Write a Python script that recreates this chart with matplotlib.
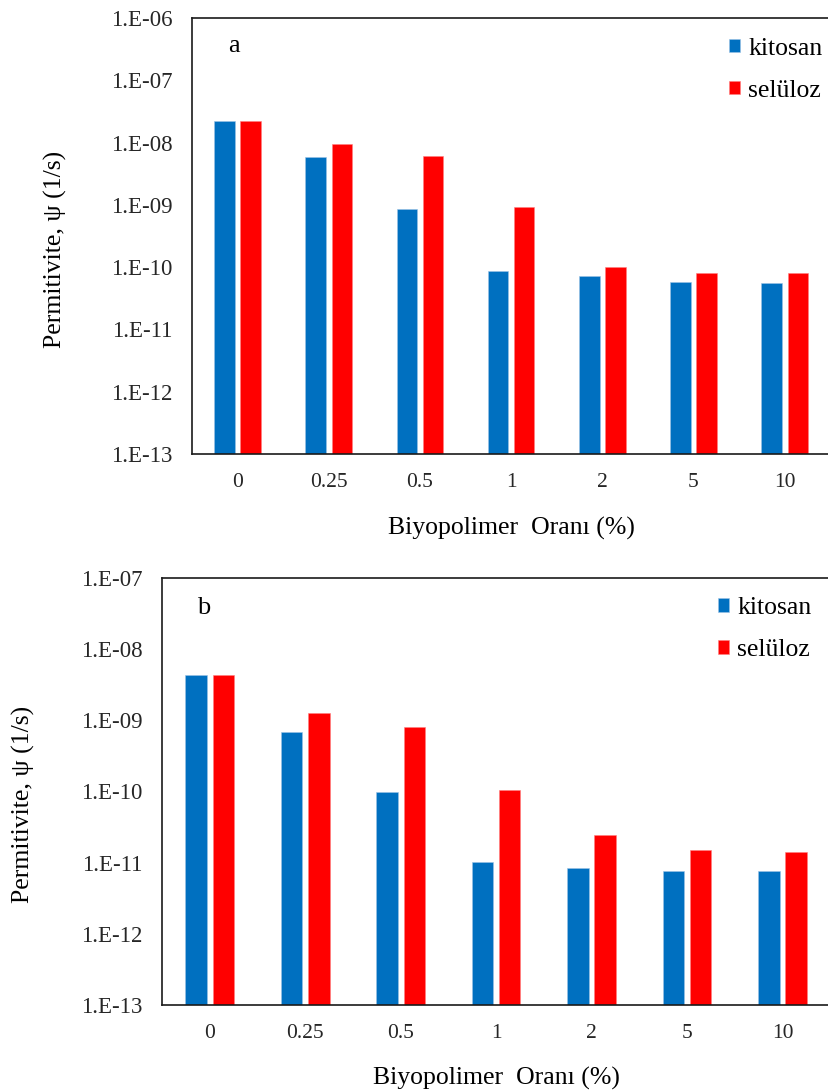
import matplotlib
matplotlib.use("Agg")
import matplotlib.pyplot as plt
import numpy as np
from matplotlib.ticker import FixedLocator, FuncFormatter, NullLocator

plt.rcParams['font.family'] = ['Liberation Serif', 'DejaVu Serif']

# ---------- data ----------
ratios = ["0", "0.25", "0.5", "1", "2", "5", "10"]
series_names = ["kitosan", "selüloz"]

# panel a
a_kitosan = [2.2e-8, 5.9e-9, 8.5e-10, 8.7e-11, 7.1e-11, 5.8e-11, 5.6e-11]
a_seluloz = [2.2e-8, 9.4e-9, 6.1e-9, 9.3e-10, 1.0e-10, 8.1e-11, 8.1e-11]

# panel b
b_kitosan = [4.4e-9, 6.8e-10, 9.7e-11, 1.0e-11, 8.4e-12, 7.5e-12, 7.5e-12]
b_seluloz = [4.4e-9, 1.28e-9, 8.1e-10, 1.05e-10, 2.4e-11, 1.5e-11, 1.4e-11]

BLUE = "#0070C0"
RED = "#FF0000"

fig = plt.figure(figsize=(8.29, 10.92), dpi=100)


def sci_label(v, pos):
    e = int(round(np.log10(v)))
    return f"1.E{e:+03d}"


def draw_panel(ax, kit, sel, ymin_exp, ymax_exp, letter, leg_anchor, ylab_x):
    x = np.arange(len(ratios))
    w = 0.225
    off = 0.143
    ax.bar(x - off, kit, w, color=BLUE, label=series_names[0],
           bottom=10.0**ymin_exp, edgecolor="#9cc3e6", linewidth=0.4)
    ax.bar(x + off, sel, w, color=RED, label=series_names[1],
           bottom=10.0**ymin_exp, edgecolor="#ff8080", linewidth=0.4)
    ax.set_yscale("log")
    ax.set_ylim(10.0**ymin_exp, 10.0**ymax_exp)
    ax.set_xlim(-0.5, len(ratios) - 0.5)
    ax.yaxis.set_major_locator(FixedLocator([10.0**k for k in range(ymin_exp, ymax_exp + 1)]))
    ax.yaxis.set_minor_locator(NullLocator())
    ax.yaxis.set_major_formatter(FuncFormatter(sci_label))
    ax.set_xticks(x)
    ax.set_xticklabels(ratios)
    ax.tick_params(axis="y", length=0, pad=14, labelsize=16.5, labelcolor="#262626")
    ax.tick_params(axis="x", length=0, pad=14, labelsize=15.5, labelcolor="#262626")
    for s in ax.spines.values():
        s.set_linewidth(1.2)
        s.set_color("#1a1a1a")
    ax.spines["right"].set_visible(False)
    ax.set_xlabel("Biyopolimer  Oranı (%)", fontsize=18.5)
    ax.xaxis.set_label_coords(0.5, -0.145)
    ax.set_ylabel("Permitivite, ψ (1/s)", fontsize=18.5)
    ax.yaxis.set_label_coords(ylab_x, 0.47)
    ax.text(letter[1], letter[2], letter[0], transform=ax.transAxes,
            fontsize=19, ha="left", va="center")
    ax.legend(loc="upper left", bbox_to_anchor=leg_anchor, frameon=False,
              fontsize=18.5, handlelength=0.45, handleheight=0.45,
              handletextpad=0.3, labelspacing=0.78, borderpad=0,
              borderaxespad=0)


ax1 = fig.add_axes([0.2316, 0.5842, 0.7700, 0.3993])
draw_panel(ax1, a_kitosan, a_seluloz, -13, -6, ("a", 0.057, 0.935),
           (0.841, 0.955), -0.196)

ax2 = fig.add_axes([0.1954, 0.0797, 0.8060, 0.3910])
draw_panel(ax2, b_kitosan, b_seluloz, -13, -7, ("b", 0.052, 0.93),
           (0.832, 0.955), -0.19)

plt.savefig("out.png", dpi=100)
plt.close()
